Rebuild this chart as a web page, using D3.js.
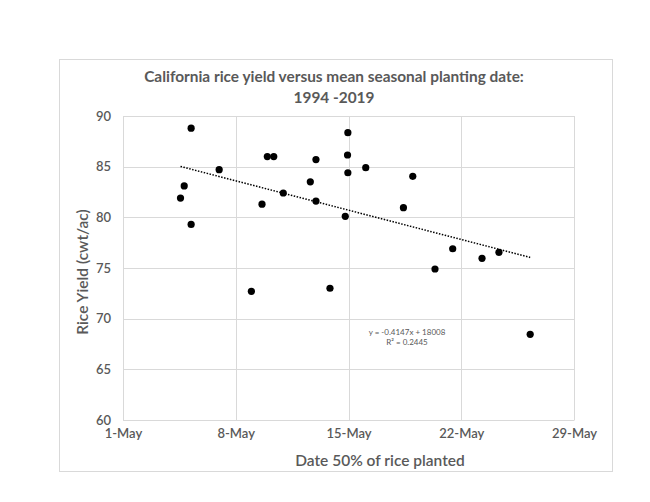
<!DOCTYPE html>
<html>
<head>
<meta charset="utf-8">
<script src="https://cdn.jsdelivr.net/npm/d3@7"></script>
<style>
  html, body { margin: 0; padding: 0; background: #fff; }
  svg { display: block; }
  text { font-family: Lato, "Open Sans", sans-serif; fill: #595959; }
</style>
</head>
<body>
<svg id="chart" width="650" height="502"></svg>
<script>
// Day of May (fractional) for mean seasonal 50% planting date, 1994-2019
const plantDay = [4.57, 4.80, 5.23, 5.23, 6.97, 8.97, 9.63, 9.96, 10.36, 10.95,
                  12.63, 12.98, 12.98, 13.85, 14.80, 14.94, 14.96, 14.96, 16.07,
                  18.41, 18.99, 20.37, 21.47, 23.29, 24.34, 26.28];
// Rice yield (cwt/ac)
const riceYield = [81.9, 83.1, 88.8, 79.3, 84.7, 72.7, 81.3, 86.0, 86.0, 82.4,
                   83.5, 85.7, 81.6, 73.0, 80.1, 86.15, 88.35, 84.4, 84.9,
                   80.95, 84.05, 74.9, 76.9, 75.95, 76.55, 68.45];
const xTickDays = [1, 8, 15, 22, 29];
const yTicks = [60, 65, 70, 75, 80, 85, 90];
const titleLines = ["California rice yield versus mean seasonal planting date:", "1994 -2019"];
const xTitle = "Date 50% of rice planted";
const yTitle = "Rice Yield (cwt/ac)";
const eqLines = ["y = -0.4147x + 18008", "R² = 0.2445"];

const dayToDate = d => new Date(2019, 4, 1, 0, 0, 0, 0).getTime() + (d - 1) * 86400000;

const svg = d3.select("#chart");
const plot = { left: 123, right: 574, top: 116, bottom: 420 };

// chart area border
svg.append("rect").attr("x", 59.5).attr("y", 59.5).attr("width", 553).attr("height", 412)
  .attr("fill", "#fff").attr("stroke", "#d9d9d9").attr("stroke-width", 1);

const x = d3.scaleTime()
  .domain([new Date(dayToDate(1)), new Date(dayToDate(29))])
  .range([plot.left, plot.right]);
const y = d3.scaleLinear().domain([60, 90]).range([plot.bottom, plot.top]);

// gridlines
const grid = svg.append("g");
grid.selectAll("line.v").data(xTickDays).join("line")
  .attr("x1", d => Math.round(x(new Date(dayToDate(d)))) + 0.5)
  .attr("x2", d => Math.round(x(new Date(dayToDate(d)))) + 0.5)
  .attr("y1", plot.top).attr("y2", plot.bottom)
  .attr("stroke", "#d9d9d9").attr("stroke-width", 1);
grid.selectAll("line.h").data(yTicks).join("line")
  .attr("x1", plot.left).attr("x2", plot.right)
  .attr("y1", d => Math.round(y(d)) + 0.5).attr("y2", d => Math.round(y(d)) + 0.5)
  .attr("stroke", "#d9d9d9").attr("stroke-width", 1);

// axes
const xAxis = d3.axisBottom(x)
  .tickValues(xTickDays.map(d => new Date(dayToDate(d))))
  .tickFormat(d3.timeFormat("%-d-%b")).tickSize(0).tickPadding(10);
const gx = svg.append("g").attr("transform", `translate(0,${plot.bottom})`).call(xAxis);
gx.select(".domain").attr("stroke", "#d9d9d9");
gx.selectAll("text").attr("font-size", 13).attr("font-weight", 600).attr("fill", "#505050")
  .style("font-family", "Lato, sans-serif").attr("dy", "0.6em");

const yAxis = d3.axisLeft(y).tickValues(yTicks).tickSize(0).tickPadding(12);
const gy = svg.append("g").attr("transform", `translate(${plot.left},0)`).call(yAxis);
gy.select(".domain").attr("stroke", "#d9d9d9");
gy.selectAll("text").attr("font-size", 13).attr("font-weight", 600).attr("fill", "#505050")
  .style("font-family", "Lato, sans-serif");

// data
const pts = plantDay.map((d, i) => ({ t: dayToDate(d), v: riceYield[i] }));

// linear trendline (least squares on the data)
const mx = d3.mean(pts, p => p.t), my = d3.mean(pts, p => p.v);
const slope = d3.sum(pts, p => (p.t - mx) * (p.v - my)) / d3.sum(pts, p => (p.t - mx) ** 2);
const icpt = my - slope * mx;
const tMin = d3.min(pts, p => p.t), tMax = d3.max(pts, p => p.t);
svg.append("line")
  .attr("x1", x(new Date(tMin))).attr("y1", y(icpt + slope * tMin))
  .attr("x2", x(new Date(tMax))).attr("y2", y(icpt + slope * tMax))
  .attr("stroke", "#000").attr("stroke-width", 1.5).attr("stroke-dasharray", "1.5,1.5");

svg.append("g").selectAll("circle").data(pts).join("circle")
  .attr("cx", p => x(new Date(p.t))).attr("cy", p => y(p.v)).attr("r", 3.6)
  .attr("fill", "#000");

// equation label
svg.append("g").selectAll("text").data(eqLines).join("text")
  .attr("x", 407).attr("y", (d, i) => 334.5 + i * 10.5)
  .attr("text-anchor", "middle").attr("font-size", 8).attr("fill", "#595959").text(d => d);

// title
svg.append("g").selectAll("text").data(titleLines).join("text")
  .attr("x", 334).attr("y", (d, i) => 82 + i * 21)
  .attr("text-anchor", "middle").attr("font-size", 15.4).attr("font-weight", "bold")
  .attr("fill", "#595959").text(d => d);

// axis titles
svg.append("text").attr("x", 380).attr("y", 466).attr("text-anchor", "middle")
  .attr("font-size", 15.5).attr("font-weight", 600).attr("fill", "#505050").text(xTitle);
svg.append("text").attr("transform", "translate(88,272) rotate(-90)")
  .attr("text-anchor", "middle").attr("font-size", 15.5).attr("font-weight", 600)
  .attr("fill", "#505050").text(yTitle);
</script>
</body>
</html>
